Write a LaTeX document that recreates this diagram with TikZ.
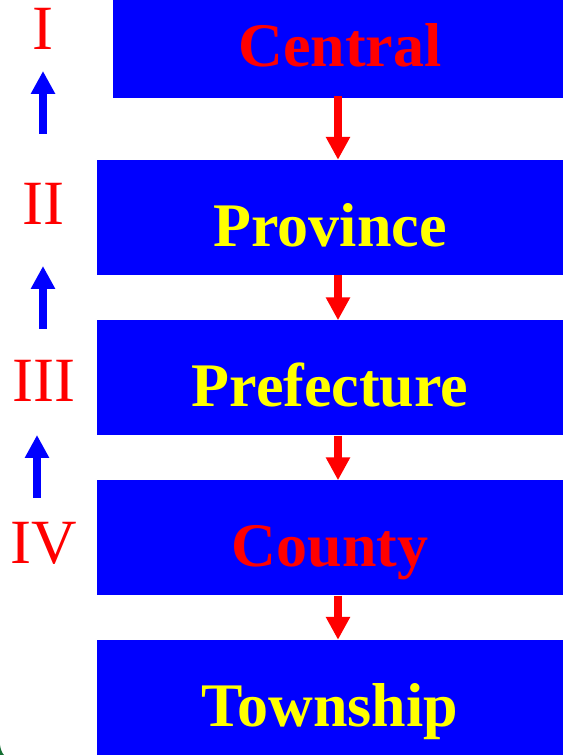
\documentclass[tikz,border=0pt]{standalone}
\usepackage{fontspec}
\setmainfont{Liberation Serif}
\usetikzlibrary{arrows.meta,calc}
\definecolor{pblue}{RGB}{0,0,255}
\definecolor{pred}{RGB}{255,0,0}
\definecolor{pyellow}{RGB}{255,255,0}
\definecolor{pgreen}{RGB}{20,110,50}
\tikzset{
  levelbox/.style={fill=pblue,draw=none,inner sep=0pt,minimum height=115pt,minimum width=466pt},
  boxtext/.style={font=\fontsize{62}{62}\selectfont\bfseries,anchor=base,inner sep=0pt},
  romanlabel/.style={font=\fontsize{63}{63}\selectfont,text=pred,anchor=base,inner sep=0pt},
  downarrow/.style={draw=pred,line width=8pt,-{Triangle[width=23pt,length=23pt]}},
  uparrow/.style={draw=pblue,line width=8pt,-{Triangle[width=23pt,length=23pt]}}
}
\begin{document}
\begin{tikzpicture}[x=1pt,y=1pt]
\useasboundingbox (0,0) rectangle (563,755);
% boxes (y measured from bottom)
\node[levelbox,minimum width=450pt,minimum height=98pt] (central) at (338,706) {};
\node[levelbox] (province) at (330,537.5) {};
\node[levelbox] (prefecture) at (330,377) {};
\node[levelbox] (county) at (330,217) {};
\node[levelbox] (township) at (330,57.5) {};
% texts
\node[boxtext,text=pred] (tcentral) at (340,688) {Central};
\node[boxtext,text=pyellow] (tprovince) at (330,508) {Province};
\node[boxtext,text=pyellow] (tprefecture) at (330,348) {Prefecture};
\node[boxtext,text=pred] (tcounty) at (330,188) {County};
\node[boxtext,text=pyellow] (ttownship) at (330,28) {Township};
% roman labels
\node[romanlabel] (r1) at (43,705) {I};
\node[romanlabel] (r2) at (43,530) {II};
\node[romanlabel] (r3) at (44,353) {III};
\node[romanlabel] (r4) at (44,191) {IV};
% red downward arrows
\draw[downarrow] ($(central.south)+(0,2)$) -- (central.south |- province.north);
\draw[downarrow] (central.south |- province.south) -- (central.south |- prefecture.north);
\draw[downarrow] (central.south |- prefecture.south) -- (central.south |- county.north);
\draw[downarrow] (central.south |- county.south) -- (central.south |- township.north);
% blue upward arrows
\coordinate (u1a) at (43,621);
\coordinate (u1b) at (43,684);
\coordinate (u2a) at (43,426);
\coordinate (u2b) at (43,489);
\coordinate (u3a) at (37,257);
\coordinate (u3b) at (37,320);
\draw[uparrow] (u1a) -- (u1b);
\draw[uparrow] (u2a) -- (u2b);
\draw[uparrow] (u3a) -- (u3b);
% green corner edge
\fill[pgreen] (0,0) -- (0,10) .. controls (0.6,6) and (1.8,2.2) .. (4,0) -- cycle;
\end{tikzpicture}
\end{document}
